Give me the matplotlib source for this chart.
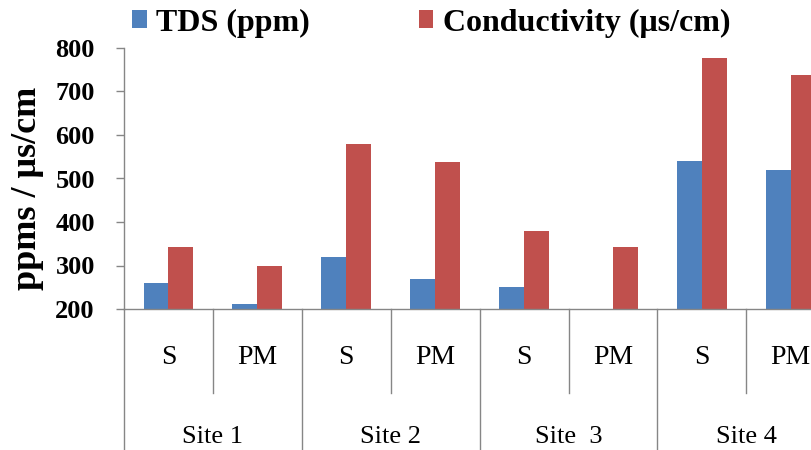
import numpy as np
import matplotlib
matplotlib.use("Agg")
import matplotlib.pyplot as plt
from matplotlib.transforms import blended_transform_factory

plt.rcParams['font.family'] = ['Liberation Serif', 'DejaVu Serif']

sites = ["Site 1", "Site 2", "Site  3", "Site 4"]
subcats = ["S", "PM", "S", "PM", "S", "PM", "S", "PM"]
tds = [260, 212, 320, 270, 250, np.nan, 540, 520]
cond = [342, 300, 580, 538, 380, 342, 778, 738]
yticks = [200, 300, 400, 500, 600, 700, 800]

blue = "#4F81BD"
red = "#C0504D"
gray = "#868686"

fig = plt.figure(figsize=(8.12, 4.5), dpi=100)
W, H = 812, 450
left_px, bottom_px, top_px = 124, 309, 48
cat_w = 88.9
ax = fig.add_axes([left_px / W, 1 - bottom_px / H, 8 * cat_w / W, (bottom_px - top_px) / H])

x = np.arange(len(subcats))
bw = 0.28
ax.bar(x - bw / 2, tds, bw, color=blue, label="TDS (ppm)")
ax.bar(x + bw / 2, cond, bw, color=red, label="Conductivity (μs/cm)")

ax.set_xlim(-0.5, len(subcats) - 0.5)
ax.set_ylim(200, 800)
ax.set_yticks(yticks)
ax.set_yticklabels([str(v) for v in yticks], fontsize=19, fontweight='bold')
ax.set_xticks([])
for s in ["top", "right"]:
    ax.spines[s].set_visible(False)
for s in ["left", "bottom"]:
    ax.spines[s].set_color(gray)
    ax.spines[s].set_linewidth(1.0)
ax.tick_params(axis='y', length=6, color=gray, width=1.0, pad=15)

fig.text(28 / W, 1 - 188 / H, "ppms / μs/cm", rotation=90, ha='center', va='center',
         fontsize=26, fontweight='bold')

tr = blended_transform_factory(ax.transData, ax.transAxes)
for b in np.arange(-0.5, len(subcats), 1.0):
    idx = int(b + 0.5)
    if idx % 2 == 0:
        ax.plot([b, b], [0, -0.56], color=gray, lw=1.0, transform=tr, clip_on=False)
    else:
        ax.plot([b, b], [0, -0.322], color=gray, lw=1.0, transform=tr, clip_on=False)
for i, lab in enumerate(subcats):
    ax.text(i, -0.184, lab, transform=tr, ha='center', va='center', fontsize=20, clip_on=False)
for j, lab in enumerate(sites):
    ax.text(2 * j + 0.5, -0.49, lab, transform=tr, ha='center', va='center', fontsize=19, clip_on=False)

leg = fig.legend(loc='center left', bbox_to_anchor=(132 / W, 1 - 23 / H), ncol=2, frameon=False,
                 prop={'size': 23, 'weight': 'bold'}, handlelength=0.46, handleheight=0.46,
                 handletextpad=0.3, columnspacing=3.4, borderpad=0, borderaxespad=0)

fig.savefig("out.png", dpi=100)
